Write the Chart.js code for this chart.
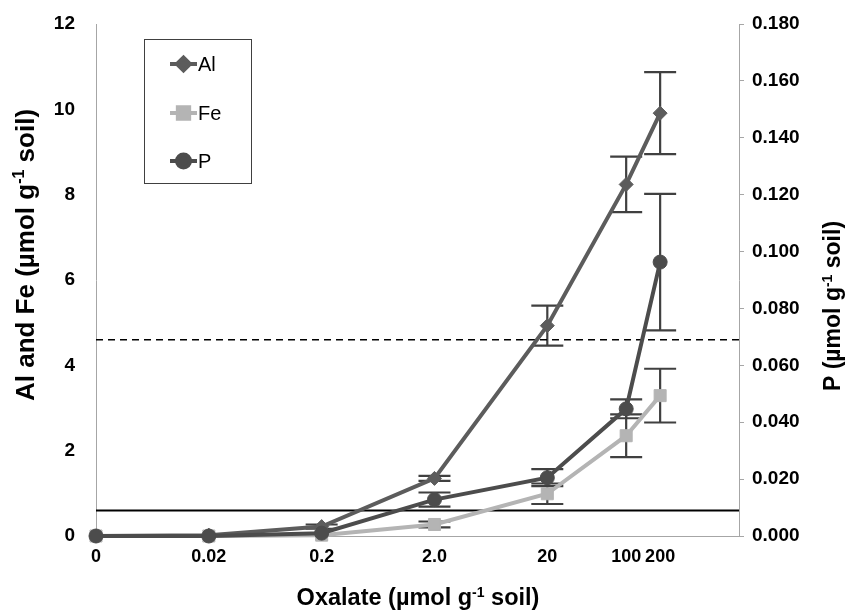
<!DOCTYPE html>
<html><head><meta charset="utf-8">
<script src="https://cdn.jsdelivr.net/npm/chart.js@4"></script>
<style>html,body{margin:0;padding:0;background:#fff;} #wrap{width:851px;height:615px;position:relative;}</style>
</head><body><div id="wrap"><canvas id="c" width="851" height="615" style="width:851px;height:615px"></canvas></div>
<script>
// Oxalate additions (µmol g-1 soil); the "0" treatment is plotted at the 0.002 position of the log axis
const oxalateLabels = ['0', '0.02', '0.2', '2.0', '20', '100', '200'];
const oxalateX = [0.002, 0.02, 0.2, 2, 20, 100, 200];
const alValues = [0, 0.02, 0.22, 1.35, 4.93, 8.24, 9.91];
const alErrors = [0, 0, 0.05, 0.06, 0.47, 0.65, 0.96];
const feValues = [0, 0, 0.02, 0.27, 0.99, 2.35, 3.29];
const feErrors = [0, 0, 0, 0.07, 0.24, 0.5, 0.63];
const pValues = [0, 0, 0.001, 0.0128, 0.0205, 0.0447, 0.0963];
const pErrors = [0, 0, 0, 0.0025, 0.003, 0.0033, 0.024];
const solidLineP = 0.009;
const dashedLineP = 0.069;
const xRange = [0.002, 1000];

const FONT = "'Liberation Sans', Arial, sans-serif";
const pts = (vals) => vals.map((v, i) => ({x: oxalateX[i], y: v}));
const hline = (v) => [{x: xRange[0], y: v}, {x: xRange[1], y: v}];

const errorBars = {
  id: 'errorBars',
  beforeDatasetsDraw(chart) {
    const ctx = chart.ctx;
    ctx.save();
    ctx.strokeStyle = '#404040'; ctx.lineWidth = 2.2;
    chart.data.datasets.forEach((ds) => {
      if (!ds.errors) return;
      const ys = chart.scales[ds.yAxisID], xs = chart.scales.x;
      ds.data.forEach((p, i) => {
        const e = ds.errors[i]; if (!e) return;
        const px = xs.getPixelForValue(p.x);
        const t = ys.getPixelForValue(p.y + e), b = ys.getPixelForValue(Math.max(0, p.y - e));
        ctx.beginPath();
        ctx.moveTo(px, t); ctx.lineTo(px, b);
        ctx.moveTo(px - 16, t); ctx.lineTo(px + 16, t);
        ctx.moveTo(px - 16, b); ctx.lineTo(px + 16, b);
        ctx.stroke();
      });
    });
    ctx.restore();
  }
};

function drawSupText(ctx, parts, cx, cy, rot, size) {
  ctx.save();
  ctx.translate(cx, cy); ctx.rotate(rot);
  ctx.fillStyle = '#000'; ctx.textBaseline = 'alphabetic'; ctx.textAlign = 'left';
  const big = 'bold ' + size + 'px ' + FONT, small = 'bold ' + Math.round(size * 0.6) + 'px ' + FONT;
  let w = 0;
  parts.forEach(([t, sup]) => { ctx.font = sup ? small : big; w += ctx.measureText(t).width; });
  let x = -w / 2; const y = size * 0.36;
  parts.forEach(([t, sup]) => {
    ctx.font = sup ? small : big;
    ctx.fillText(t, x, sup ? y - size * 0.38 : y);
    x += ctx.measureText(t).width;
  });
  ctx.restore();
}

const extras = {
  id: 'extras',
  afterDraw(chart) {
    const ctx = chart.ctx;
    ctx.save();
    ctx.fillStyle = '#fff'; ctx.fillRect(144, 39, 108, 145);
    ctx.strokeStyle = '#404040'; ctx.lineWidth = 1; ctx.strokeRect(144.5, 39.5, 107, 144);
    const rows = [64, 113, 161];
    chart.data.datasets.filter(d => d.inLegend).forEach((ds, i) => {
      const y = rows[i];
      ctx.strokeStyle = ds.borderColor; ctx.lineWidth = 4;
      ctx.beginPath(); ctx.moveTo(170, y); ctx.lineTo(197, y); ctx.stroke();
      ctx.fillStyle = ds.backgroundColor; ctx.strokeStyle = ds.borderColor;
      Chart.helpers.drawPoint(ctx, {pointStyle: ds.pointStyle, radius: ds.pointRadius - 0.5, borderWidth: 1, rotation: 0}, 183.5, y);
      ctx.fillStyle = '#000'; ctx.font = '20px ' + FONT; ctx.textBaseline = 'middle'; ctx.textAlign = 'left';
      ctx.fillText(ds.label, 198, y + 1);
    });
    ctx.restore();
    drawSupText(ctx, [['Al and Fe (µmol g', false], ['-1', true], [' soil)', false]], 25, 255, -Math.PI / 2, 26);
    drawSupText(ctx, [['P (µmol g', false], ['-1', true], [' soil)', false]], 832, 306, -Math.PI / 2, 23);
    drawSupText(ctx, [['Oxalate (µmol g', false], ['-1', true], [' soil)', false]], 418, 597, 0, 23.5);
  }
};

const noVPad = (s) => { s.paddingTop = 0; s.paddingBottom = 0; };

new Chart(document.getElementById('c'), {
  type: 'scatter',
  data: {
    datasets: [
      {label: 'Al', inLegend: true, order: 1, clip: false, data: pts(alValues), errors: alErrors, yAxisID: 'y', showLine: true,
       borderColor: '#5c5c5c', backgroundColor: '#5c5c5c', borderWidth: 4, pointStyle: 'rectRot', pointRadius: 7, pointBorderWidth: 1},
      {label: 'Fe', inLegend: true, order: 2, clip: false, data: pts(feValues), errors: feErrors, yAxisID: 'y', showLine: true,
       borderColor: '#b4b4b4', backgroundColor: '#b4b4b4', borderWidth: 4, pointStyle: 'rect', pointRadius: 8.5, pointBorderWidth: 1},
      {label: 'P', inLegend: true, order: 0, clip: false, data: pts(pValues), errors: pErrors, yAxisID: 'y2', showLine: true,
       borderColor: '#4c4c4c', backgroundColor: '#4c4c4c', borderWidth: 4, pointStyle: 'circle', pointRadius: 7, pointBorderWidth: 1},
      {label: 'solid', order: 3, data: hline(solidLineP), yAxisID: 'y2', showLine: true, borderColor: '#000', borderWidth: 2, pointRadius: 0},
      {label: 'dashed', order: 3, data: hline(dashedLineP), yAxisID: 'y2', showLine: true, borderColor: '#000', borderWidth: 1.6, borderDash: [7, 5], pointRadius: 0}
    ]
  },
  options: {
    responsive: false, animation: false, devicePixelRatio: 1,
    layout: {padding: {top: 24, left: 0, right: 0, bottom: 0}},
    plugins: {legend: {display: false}, tooltip: {enabled: false}},
    scales: {
      x: {
        type: 'logarithmic', min: xRange[0], max: xRange[1], position: 'bottom',
        afterBuildTicks: (s) => { s.ticks = oxalateX.map(v => ({value: v})); },
        afterFit: (s) => { s.height = 79; },
        ticks: {autoSkip: false, maxRotation: 0, padding: 10, color: '#000',
                font: {family: FONT, size: 18, weight: 'bold'},
                callback: (v, i) => oxalateLabels[i]},
        grid: {drawOnChartArea: false, drawTicks: false},
        border: {display: true, color: '#a6a6a6', width: 1}
      },
      y: {
        position: 'left', min: 0, max: 12,
        afterFit: (s) => { s.width = 96; noVPad(s); },
        ticks: {stepSize: 2, padding: 21, color: '#000', font: {family: FONT, size: 19, weight: 'bold'}},
        grid: {drawOnChartArea: false, drawTicks: false},
        border: {display: true, color: '#a6a6a6', width: 1}
      },
      y2: {
        position: 'right', min: 0, max: 0.18,
        afterFit: (s) => { s.width = 112; noVPad(s); },
        ticks: {stepSize: 0.02, padding: 8, color: '#000', font: {family: FONT, size: 19, weight: 'bold'},
                callback: (v) => Number(v).toFixed(3)},
        grid: {drawOnChartArea: false, drawTicks: true, tickLength: 5, color: '#a6a6a6'},
        border: {display: true, color: '#a6a6a6', width: 1}
      }
    }
  },
  plugins: [errorBars, extras]
});
</script></body></html>
